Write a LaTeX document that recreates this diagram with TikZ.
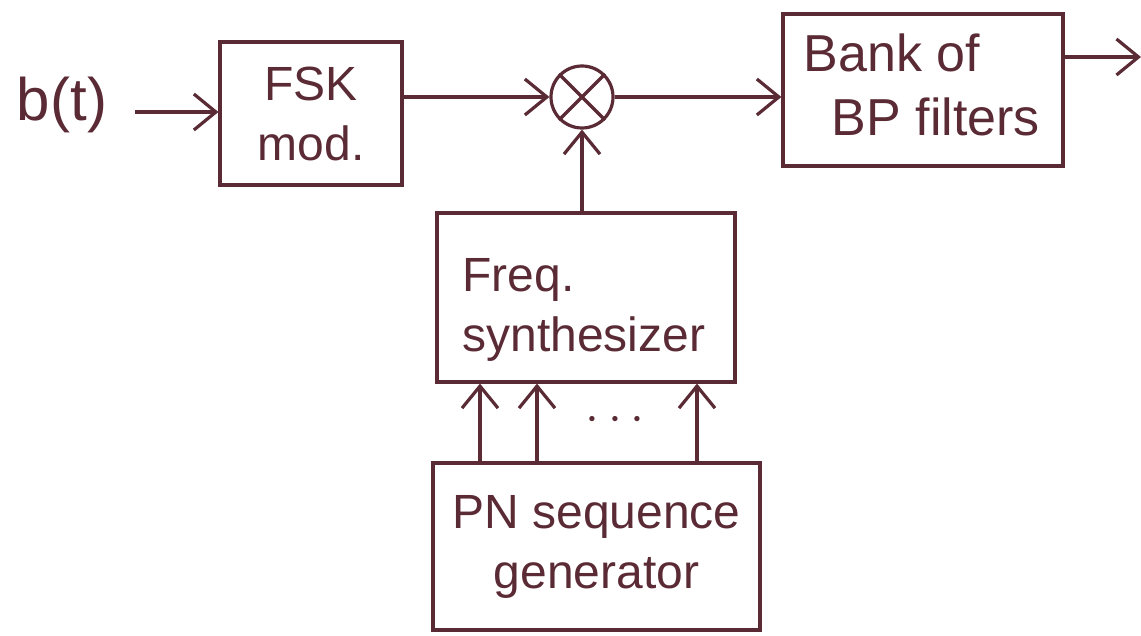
\documentclass[tikz,border=0pt]{standalone}
\usepackage{fontspec}
\setmainfont{Liberation Sans}
\usetikzlibrary{arrows.meta}
\definecolor{ink}{HTML}{5A2A35}
\tikzset{
  blockbox/.style={draw=ink, line width=1.6pt, text=ink, inner sep=0pt},
  lbl/.style={text=ink, inner sep=0pt},
  flow/.style={draw=ink, line width=1.6pt, -{Straight Barb[length=11pt,width=18pt,line width=1.6pt]}},
  mixer/.style={draw=ink, line width=1.6pt, circle, minimum size=31pt, inner sep=0pt},
  big/.style={font=\fontsize{24}{30}\selectfont},
}
\begin{document}
\begin{tikzpicture}[x=0.5pt, y=-0.5pt]
  \useasboundingbox (0,0) rectangle (1141,636);

  % input label
  \node[lbl, font=\fontsize{30}{34}\selectfont] (bt) at (62,105) {b(t)};

  % blocks
  \node[blockbox, big, minimum width=91pt, minimum height=71.5pt, align=center] (fsk) at (311,113.5) {FSK\\mod.};
  \node[mixer] (mix) at (582,97) {};
  \draw[ink, line width=1.6pt] (mix.north east) -- (mix.south west) (mix.north west) -- (mix.south east);
  \node[blockbox, minimum width=140pt, minimum height=76pt] (bank) at (923,90) {};
  \node[lbl, font=\fontsize{26}{32}\selectfont, align=left] (banktxt) at (922,85) {Bank of\\\hspace*{14pt}BP filters};
  \node[blockbox, minimum width=149pt, minimum height=84.5pt] (synth) at (586,297.5) {};
  \node[lbl, big, align=left, anchor=west] (synthtxt) at (462,310) {Freq.\\synthesizer};
  \node[blockbox, big, minimum width=163.5pt, minimum height=83.5pt, align=center] (pn) at (596.5,546.5) {PN sequence\\generator};

  % output end
  \coordinate (out) at (1141,57);
  \coordinate (bankout) at (1063,57);

  % connectors
  \draw[flow] ([xshift=14pt]bt.east |- 0,112) -- (fsk.west |- 0,112);
  \draw[flow] (fsk.east |- mix) -- (mix.west);
  \draw[flow] (mix.east) -- (bank.west |- mix);
  \draw[flow] (bankout) -- (out);
  \draw[flow] (synth.north -| mix) -- (mix.south);

  \foreach \x/\n in {480/a,537/b,697/c}{
    \draw[flow] (pn.north -| \x,0) -- (synth.south -| \x,0);
  }
  \node[lbl, font=\fontsize{30}{34}\selectfont] (dots) at (615,420) {$\cdots$};
\end{tikzpicture}
\end{document}
